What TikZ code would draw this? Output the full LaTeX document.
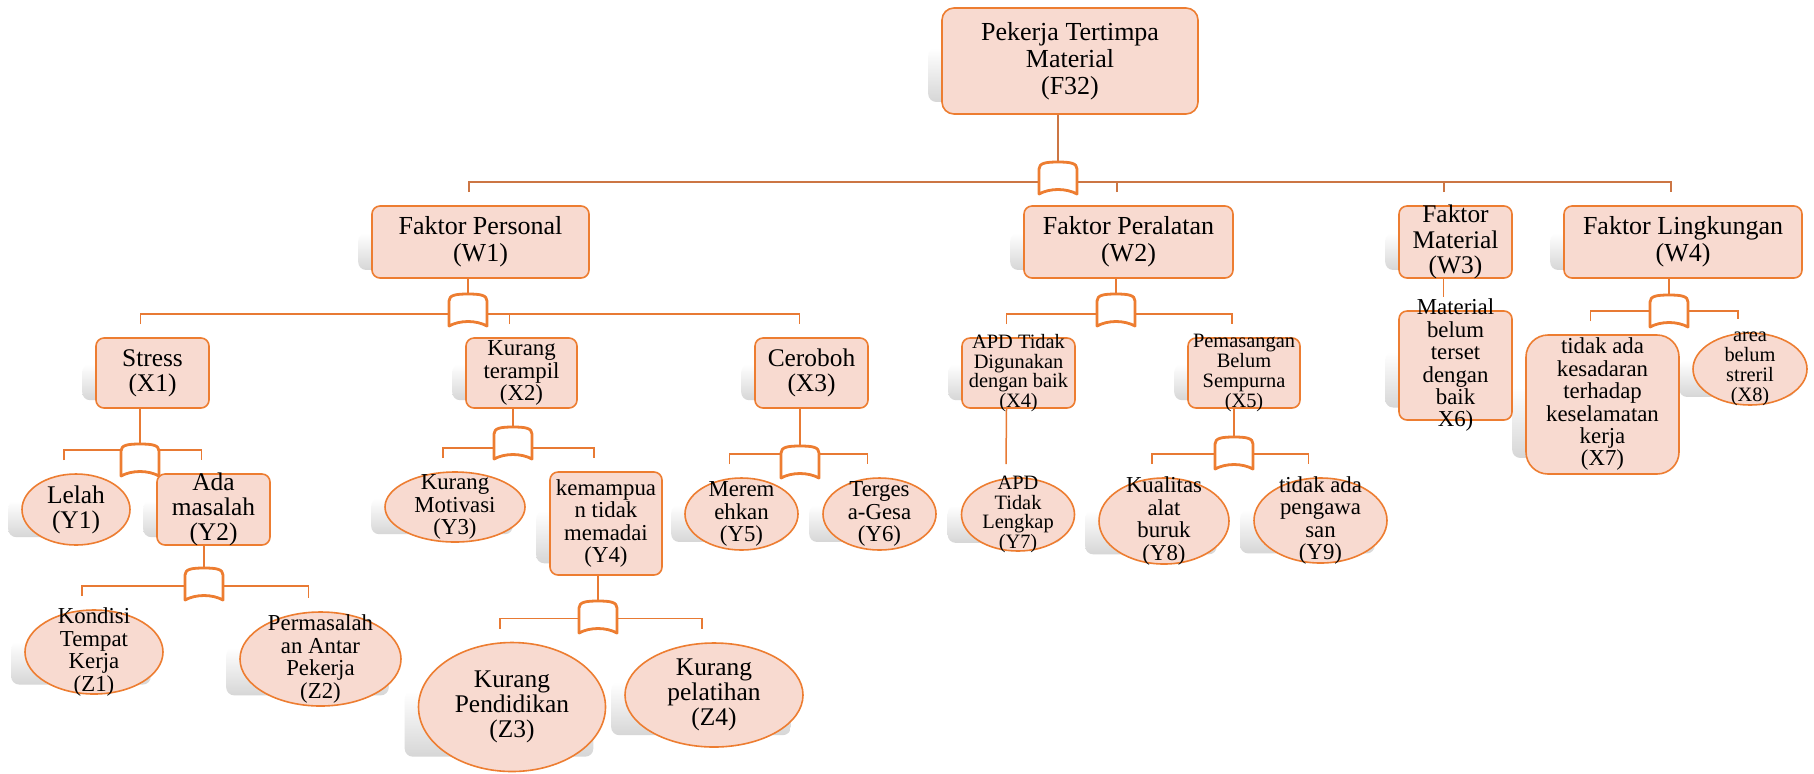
\documentclass[tikz,border=0pt]{standalone}
\usepackage{fontspec}
\setmainfont{Liberation Serif}
\usetikzlibrary{shapes.geometric, calc, backgrounds}

\definecolor{boxfill}{RGB}{248,218,208}
\definecolor{boxedge}{RGB}{237,125,49}
\definecolor{linkorange}{RGB}{232,122,52}
\definecolor{linkbrown}{RGB}{204,118,68}

\begin{document}
\begin{tikzpicture}[x=0.5pt, y=-0.5pt,
    sz/.style 2 args={minimum width=#1*0.5pt, minimum height=#2*0.5pt},
    rbox/.style={rectangle, draw=boxedge, fill=boxfill, line width=0.8pt, rounded corners=4pt, inner sep=0pt},
    obox/.style={ellipse, draw=boxedge, fill=boxfill, line width=0.8pt, inner sep=0pt},
    lbl/.style={align=center, inner sep=0pt},
    tA/.style={font=\fontsize{13}{13.6}\selectfont},
    tB/.style={font=\fontsize{12.7}{12.6}\selectfont},
    tC/.style={font=\fontsize{11.4}{11.2}\selectfont},
    tD/.style={font=\fontsize{10.2}{9.9}\selectfont},
    conn/.style={draw=linkorange, line width=0.75pt},
    topconn/.style={draw=linkbrown, line width=1pt},
    gatebox/.style={rectangle, sz={38}{32}, inner sep=0pt},
    gate/.style={draw=boxedge, fill=white, line width=1.4pt, line join=round},
    shadowbox/.style={rounded corners=4pt, top color=white, bottom color=black!16}
]
    \useasboundingbox (0,0) rectangle (1814,773);

    % Top event
    \node[rbox, rounded corners=6pt, sz={256}{106}, label={[lbl, tA]center:{Pekerja Tertimpa\\Material\\(F32)}}] (f32) at (1070,61) {};

    % Factors
    \node[rbox, sz={217}{72}, label={[lbl, tA]center:{Faktor Personal\\(W1)}}] (w1) at (480.5,242) {};
    \node[rbox, sz={209}{72}, label={[lbl, tA]center:{Faktor Peralatan\\(W2)}}] (w2) at (1128.5,242) {};
    \node[rbox, sz={113}{72}, label={[lbl, tB]center:{Faktor\\Material\\(W3)}}] (w3) at (1455.5,242) {};
    \node[rbox, sz={238}{72}, label={[lbl, tA]center:{Faktor Lingkungan\\(W4)}}] (w4) at (1683,242) {};

    % X events
    \node[rbox, sz={113}{70}, label={[lbl, tB]center:{Stress\\(X1)}}] (x1) at (152.5,373) {};
    \node[rbox, sz={111}{70}, label={[lbl, tC]center:{Kurang\\terampil\\(X2)}}] (x2) at (521.5,373) {};
    \node[rbox, sz={113}{70}, label={[lbl, tB]center:{Ceroboh\\(X3)}}] (x3) at (811.5,373) {};
    \node[rbox, sz={113}{70}, label={[lbl, tD]center:{APD Tidak\\Digunakan\\dengan baik\\(X4)}}] (x4) at (1018.5,373) {};
    \node[rbox, sz={112}{70}, label={[lbl, tD]center:{Pemasangan\\Belum\\Sempurna\\(X5)}}] (x5) at (1244,373) {};
    \node[rbox, sz={113}{109}, label={[lbl, tC]center:{Material\\belum\\terset\\dengan\\baik\\X6)}}] (x6) at (1455.5,365.5) {};
    \node[rbox, rounded corners=11pt, sz={153}{139}, label={[lbl, tC]center:{tidak ada\\kesadaran\\terhadap\\keselamatan\\kerja\\(X7)}}] (x7) at (1602.5,404.5) {};
    \node[obox, sz={114}{72}, label={[lbl, tD]center:{area\\belum\\streril\\(X8)}}] (x8) at (1750,369) {};

    % Y events
    \node[obox, sz={108}{71}, label={[lbl, tB]center:{Lelah\\(Y1)}}] (y1) at (76,509.5) {};
    \node[rbox, sz={113}{71}, label={[lbl, tB]center:{Ada\\masalah\\(Y2)}}] (y2) at (213.5,509.5) {};
    \node[obox, sz={140}{70}, label={[lbl, tC]center:{Kurang\\Motivasi\\(Y3)}}] (y3) at (455,507) {};
    \node[rbox, sz={112}{103}, label={[lbl, tC]center:{kemampua\\n tidak\\memadai\\(Y4)}}] (y4) at (606,523.5) {};
    \node[obox, sz={113}{72}, label={[lbl, tC]center:{Merem\\ehkan\\(Y5)}}] (y5) at (741.5,514) {};
    \node[obox, sz={113}{72}, label={[lbl, tC]center:{Terges\\a-Gesa\\(Y6)}}] (y6) at (879.5,514) {};
    \node[obox, sz={113}{73}, label={[lbl, tD]center:{APD\\Tidak\\Lengkap\\(Y7)}}] (y7) at (1018,514.5) {};
    \node[obox, sz={130}{86}, label={[lbl, tC]center:{Kualitas\\alat\\buruk\\(Y8)}}] (y8) at (1164,521) {};
    \node[obox, sz={133}{85}, label={[lbl, tC]center:{tidak ada\\pengawa\\san\\(Y9)}}] (y9) at (1320.5,520.5) {};

    % Z events
    \node[obox, sz={138}{84}, label={[lbl, tC]center:{Kondisi\\Tempat\\Kerja\\(Z1)}}] (z1) at (94,652) {};
    \node[obox, sz={161}{94}, label={[lbl, tC]center:{Permasalah\\an Antar\\Pekerja\\(Z2)}}] (z2) at (320.5,659) {};
    \node[obox, sz={187}{129}, label={[lbl, tB]center:{Kurang\\Pendidikan\\(Z3)}}] (z3) at (512,707) {};
    \node[obox, sz={178}{104}, label={[lbl, tB]center:{Kurang\\pelatihan\\(Z4)}}] (z4) at (714,695) {};

    % AND gates
    \node[gatebox] (g0) at (1058,178) {};
    \node[gatebox] (gw1) at (468,310) {};
    \node[gatebox] (gw2) at (1116,310) {};
    \node[gatebox] (gw4) at (1669,311) {};
    \node[gatebox] (gx1) at (140,460) {};
    \node[gatebox] (gx2) at (513,443) {};
    \node[gatebox] (gx3) at (800,462) {};
    \node[gatebox] (gx5) at (1234,453) {};
    \node[gatebox] (gy2) at (204,584) {};
    \node[gatebox] (gy4) at (598,617) {};

    % F32 -> factors
    \draw[topconn] (f32.south -| g0) -- (g0.north);
    \draw[topconn] ([shift={(-12,-13)}]w1.north) -- ++(0,-10) -| ([shift={(-12,-13)}]w4.north);
    \foreach \c in {w2,w3}
        \draw[topconn] ([shift={(-12,-13)}]\c.north) -- ++(0,-10);

    % W1
    \draw[conn] (w1.south -| gw1) -- (gw1.north);
    \draw[conn] ([shift={(-12,-13)}]x1.north) -- ++(0,-10) -| ([shift={(-12,-13)}]x3.north);
    \draw[conn] ([shift={(-12,-13)}]x2.north) -- ++(0,-10);
    % W2
    \draw[conn] (w2.south -| gw2) -- (gw2.north);
    \draw[conn] ([shift={(-12,-13)}]x4.north) -- ++(0,-10) -| ([shift={(-12,-13)}]x5.north);
    % W3
    \draw[conn] ([shift={(-12,0)}]w3.south) -- ([shift={(-12,-13)}]x6.north);
    % W4
    \draw[conn] (w4.south -| gw4) -- (gw4.north);
    \draw[conn] ([shift={(-12,-13)}]x7.north) -- ++(0,-10) -| ([shift={(-12,-13)}]x8.north);

    % X1, X2, X3
    \draw[conn] (x1.south -| gx1) -- (gx1.north);
    \draw[conn] ([shift={(-12,-13)}]y1.north) -- ++(0,-10) -| ([shift={(-12,-13)}]y2.north);
    \draw[conn] (x2.south -| gx2) -- (gx2.north);
    \draw[conn] ([shift={(-12,-13)}]y3.north) -- ++(0,-10) -| ([shift={(-12,-13)}]y4.north);
    \draw[conn] (x3.south -| gx3) -- (gx3.north);
    \draw[conn] ([shift={(-12,-13)}]y5.north) -- ++(0,-10) -| ([shift={(-12,-13)}]y6.north);
    % X4, X5
    \draw[conn] ([shift={(-12,0)}]x4.south) -- ([shift={(-12,-13)}]y7.north);
    \draw[conn] (x5.south -| gx5) -- (gx5.north);
    \draw[conn] ([shift={(-12,-13)}]y8.north) -- ++(0,-10) -| ([shift={(-12,-13)}]y9.north);

    % Y2, Y4
    \draw[conn] (y2.south -| gy2) -- (gy2.north);
    \draw[conn] ([shift={(-12,-13)}]z1.north) -- ++(0,-10) -| ([shift={(-12,-13)}]z2.north);
    \draw[conn] (y4.south -| gy4) -- (gy4.north);
    \draw[conn] ([shift={(-12,-13)}]z3.north) -- ++(0,-10) -| ([shift={(-12,-13)}]z4.north);

    % gate outlines on top of the bars
    \foreach \g in {g0,gw1,gw2,gw4,gx1,gx2,gx3,gx5,gy2,gy4}
        \draw[gate, shift={(\g.center)}] (-19,16) -- (-19,-9)
            .. controls (-19,-15) and (-12,-16) .. (0,-16)
            .. controls (12,-16) and (19,-15) .. (19,-9) -- (19,16)
            .. controls (8,10) and (-8,10) .. (-19,16) -- cycle;

    % soft shadows behind every event
    \begin{scope}[on background layer]
        \fill[white] (0,0) rectangle (1814,773);
        \foreach \n in {f32,w1,w2,w3,w4,x1,x2,x3,x4,x5,x6,x7,x8,y1,y2,y3,y4,y5,y6,y7,y8,y9,z1,z2,z3,z4}
            \shade[shadowbox] ($(\n.west |- \n.north)!0.38!(\n.west |- \n.south)+(-13,0)$)
                rectangle ($(\n.east |- \n.north)!0.88!(\n.east |- \n.south)+(-13,0)$);
    \end{scope}
\end{tikzpicture}
\end{document}
